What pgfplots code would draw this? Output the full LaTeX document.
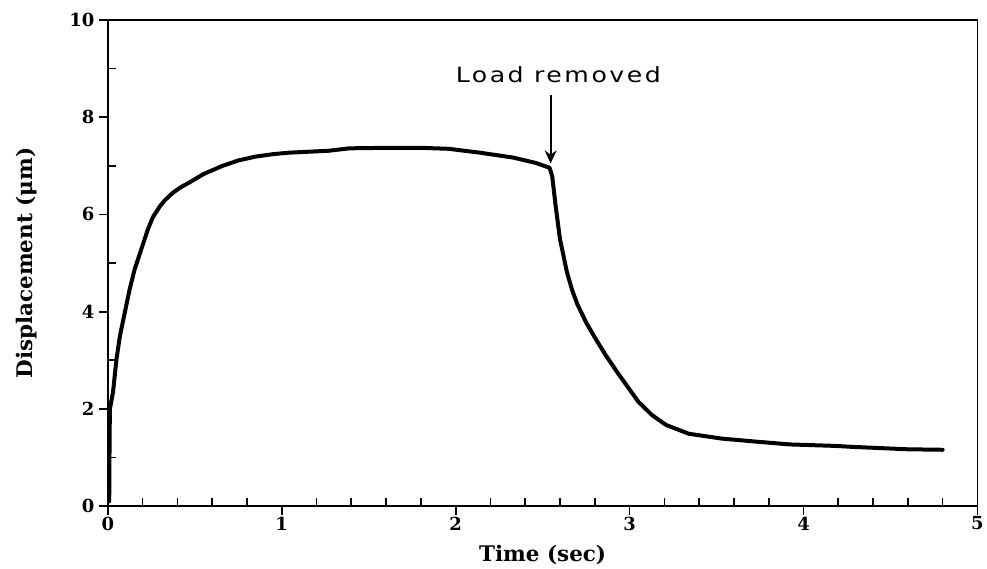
\documentclass[border=0pt]{standalone}
\usepackage{pgfplots}
\pgfplotsset{compat=1.18}
\usepackage{fontspec}
\setmainfont{DejaVu Serif}
\newfontfamily\annfont[LetterSpace=10]{DejaVu Sans}
\usetikzlibrary{arrows.meta}
\begin{document}
\begin{tikzpicture}
\begin{axis}[
  scale only axis,
  width=871pt, height=487pt,
  xmin=0, xmax=5, ymin=0, ymax=10,
  xtick={0,1,2,3,4,5}, ytick={0,2,4,6,8,10},
  minor x tick num=4, minor y tick num=1,
  xtick pos=bottom, ytick pos=left,
  tick align=inside,
  major tick length=-9pt, minor tick length=8pt,
  axis line style={line width=1.8pt},
  every tick/.style={line width=1.7pt, black},
  tick label style={font=\fontsize{18}{20}\selectfont\bfseries},
  /pgf/number format/assume math mode=true,
  xticklabel style={yshift=-7pt},
  yticklabel style={xshift=-10pt},
  label style={font=\fontsize{21.5}{24}\selectfont\bfseries},
  xlabel={Time (sec)},
  ylabel={Displacement (μm)},
  xlabel style={yshift=-8pt},
  ylabel style={yshift=26pt},
]
\addplot[black, line width=4pt, line join=round, line cap=round] coordinates {
(0.008,0.1) (0.010,1.3) (0.012,2.0) (0.03,2.35) (0.05,3.03) (0.07,3.51)
(0.098,3.99) (0.126,4.47) (0.155,4.88) (0.193,5.29) (0.231,5.70) (0.26,5.95)
(0.30,6.17) (0.33,6.30) (0.375,6.45) (0.42,6.56) (0.47,6.66) (0.55,6.83)
(0.66,7.00) (0.75,7.11) (0.85,7.19) (0.95,7.24) (1.04,7.27) (1.27,7.31)
(1.39,7.36) (1.60,7.37) (1.80,7.37) (1.96,7.35) (2.14,7.27) (2.33,7.17)
(2.46,7.06) (2.54,6.96) (2.555,6.79) (2.575,6.17) (2.60,5.49) (2.64,4.81)
(2.67,4.44) (2.70,4.15) (2.75,3.78) (2.80,3.47) (2.86,3.12) (2.93,2.75) (3.00,2.40)
(3.05,2.15) (3.13,1.87) (3.21,1.67) (3.34,1.49) (3.53,1.39) (3.72,1.33)
(3.92,1.27) (4.18,1.24) (4.28,1.22) (4.60,1.17) (4.80,1.16)
};
\draw[line width=1.8pt, -{Stealth[length=13pt, width=12pt]}] (axis cs:2.546,8.46) -- (axis cs:2.546,7.05);
\node[font=\annfont\fontsize{21}{24}\selectfont, xscale=1.2] at (axis cs:2.59,8.88) {Load removed};
\end{axis}
\path (current axis.south west) ++(-108pt,-61pt);
\path (current axis.north east) ++(8pt,20pt);
\end{tikzpicture}
\end{document}
